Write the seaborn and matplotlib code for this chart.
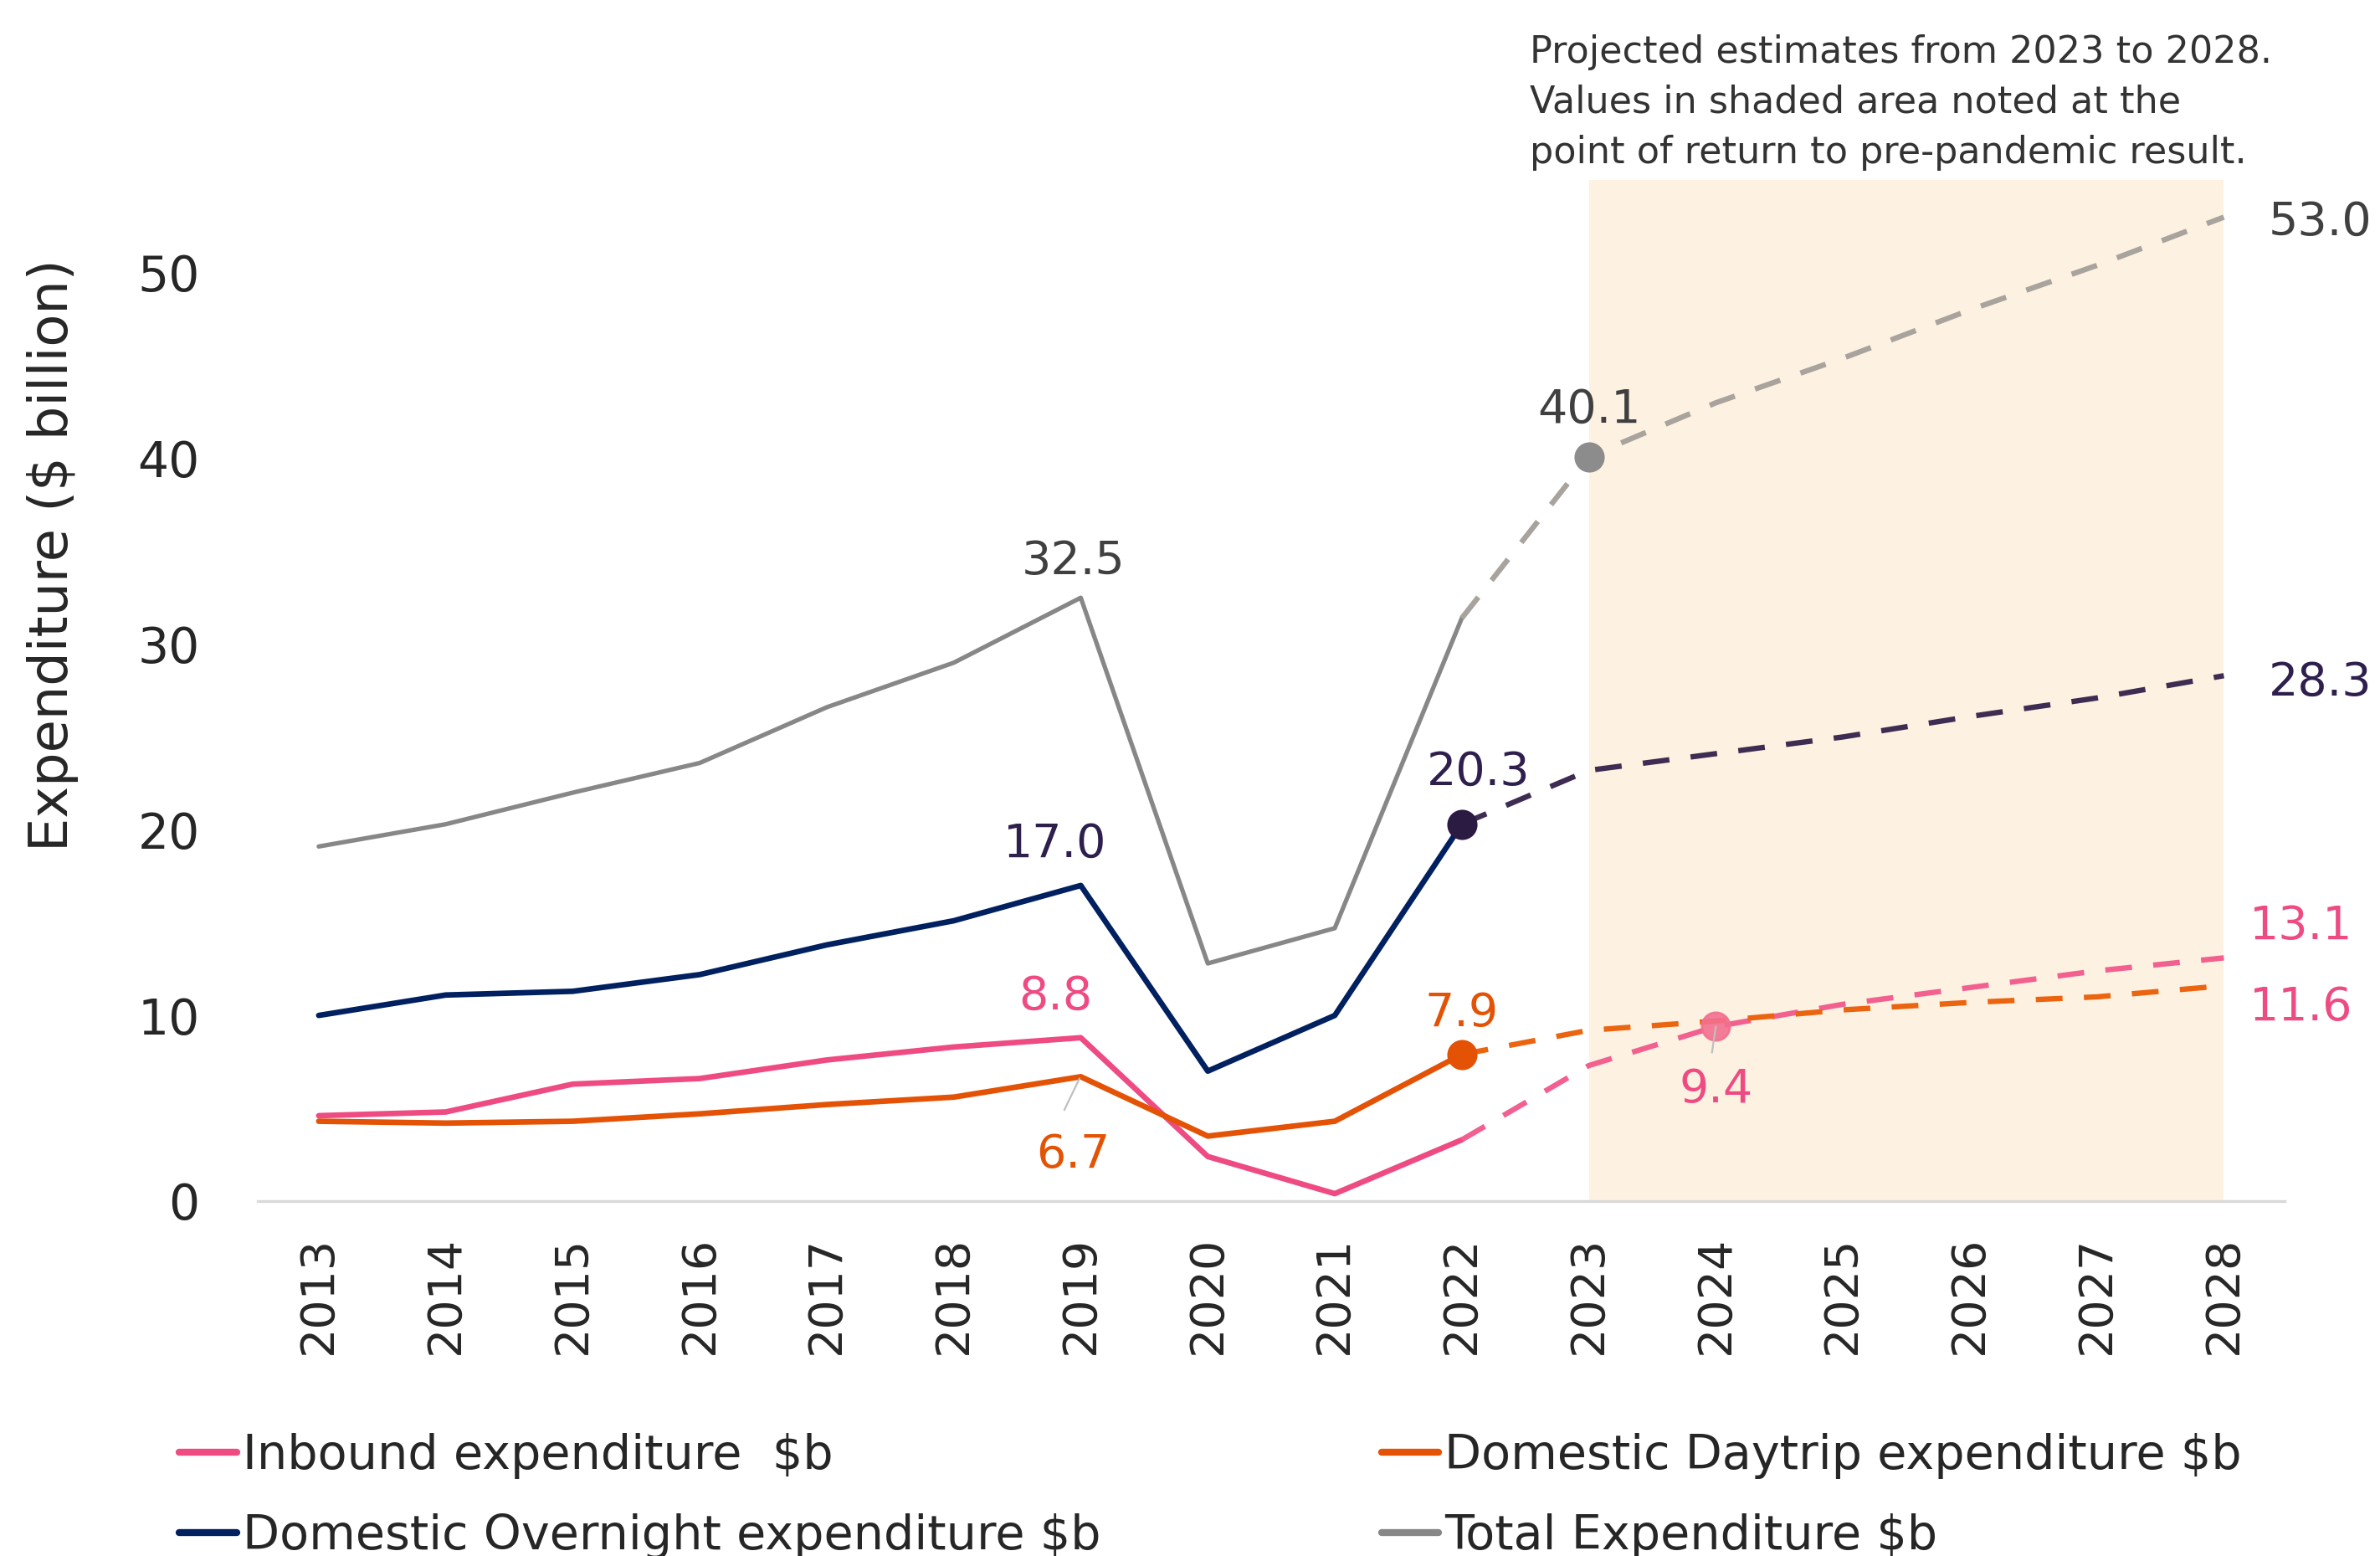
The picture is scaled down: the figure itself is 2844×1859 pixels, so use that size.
import numpy as np
import pandas as pd
import seaborn as sns
import matplotlib.pyplot as plt
from matplotlib.lines import Line2D

# values ($ billion); 2023-2028 are projections
years = list(range(2013, 2029))
inbound = [4.6, 4.8, 6.3, 6.6, 7.6, 8.3, 8.8, 2.4, 0.4, 3.3, 7.3, 9.4, 10.6, 11.5, 12.4, 13.1]
daytrip = [4.3, 4.2, 4.3, 4.7, 5.2, 5.6, 6.7, 3.5, 4.3, 7.9, 9.2, 9.7, 10.3, 10.7, 11.0, 11.6]
overnight = [10.0, 11.1, 11.3, 12.2, 13.8, 15.1, 17.0, 7.0, 10.0, 20.3, 23.2, 24.1, 25.0, 26.1, 27.1, 28.3]
total = [19.1, 20.3, 22.0, 23.6, 26.6, 29.0, 32.5, 12.8, 14.7, 31.4, 40.1, 43.0, 45.4, 48.0, 50.4, 53.0]

series_names = ["Inbound expenditure  $b", "Domestic Daytrip expenditure $b",
                "Domestic Overnight expenditure $b", "Total Expenditure $b"]

df = pd.DataFrame({"year": years, series_names[0]: inbound, series_names[1]: daytrip,
                   series_names[2]: overnight, series_names[3]: total})
long = df.melt(id_vars="year", var_name="series", value_name="value")
actual = long[long["year"] <= 2022]
projected = long[long["year"] >= 2022]

solid_colors = {series_names[0]: "#EF4B83", series_names[1]: "#E35205",
                series_names[2]: "#002060", series_names[3]: "#878787"}
dash_colors = {series_names[0]: "#F2608F", series_names[1]: "#EB6410",
               series_names[2]: "#3E2C52", series_names[3]: "#A8A39C"}
solid_lw = {series_names[0]: 2.4, series_names[1]: 2.4, series_names[2]: 2.4, series_names[3]: 1.9}

sns.set_theme(style="white")
plt.rcParams["font.family"] = ["DejaVu Sans"]

fig = plt.figure(figsize=(14.22, 9.295), dpi=200)
ax = fig.add_axes([0.1083, 0.2281, 0.8517, 0.6562])

ax.axvspan(2023, 2028, color="#FDF1E1", zorder=0, lw=0)

for name in series_names:
    sub = actual[actual["series"] == name]
    sns.lineplot(data=sub, x="year", y="value", color=solid_colors[name],
                 lw=solid_lw[name], ax=ax, zorder=3)
    sub = projected[projected["series"] == name]
    sns.lineplot(data=sub, x="year", y="value", color=dash_colors[name],
                 lw=2.3, ax=ax, zorder=3)
    ax.lines[-1].set_dashes((5, 4))

# highlighted points
ax.plot(2023, total[10], "o", color="#8C8C8C", ms=12, zorder=5)
ax.plot(2022, overnight[9], "o", color="#2B1A42", ms=12, zorder=5)
ax.plot(2022, daytrip[9], "o", color="#E35205", ms=12, zorder=5)
ax.plot(2024, inbound[11], "o", color="#F27090", ms=12, zorder=5, alpha=0.9)

# leader lines
ax.plot([2018.99, 2018.87], [6.6, 4.9], color="#BFBFBF", lw=0.8, zorder=4)
ax.plot([2024.0, 2023.97], [9.4, 8.0], color="#BFBFBF", lw=0.8, zorder=6)

dark_grey = "#404040"
purple = "#2E1F4D"
pink = "#EF4B83"
orange = "#E35205"
lbl = dict(fontsize=20, ha="center", va="center", zorder=7)
ax.text(2018.94, 34.45, "32.5", color=dark_grey, **lbl)
ax.text(2018.8, 19.2, "17.0", color=purple, **lbl)
ax.text(2018.8, 11.0, "8.8", color=pink, **lbl)
ax.text(2018.94, 2.5, "6.7", color=orange, **lbl)
ax.text(2022.13, 23.1, "20.3", color=purple, **lbl)
ax.text(2023.0, 42.6, "40.1", color=dark_grey, **lbl)
ax.text(2022.0, 10.1, "7.9", color=orange, **lbl)
ax.text(2024.0, 6.0, "9.4", color=pink, **lbl)
lbl_r = dict(fontsize=20, ha="left", va="center", zorder=7)
ax.text(2028.35, 52.7, "53.0", color=dark_grey, **lbl_r)
ax.text(2028.35, 27.9, "28.3", color=purple, **lbl_r)
ax.text(2028.2, 14.8, "13.1", color=pink, **lbl_r)
ax.text(2028.2, 10.4, "11.6", color=pink, **lbl_r)

ax.set_xlim(2012.52, 2028.48)
ax.set_ylim(0, 55)
ax.set_xticks(years)
ax.set_xticklabels([str(y) for y in years], rotation=90)
ax.set_yticks([0, 10, 20, 30, 40, 50])
ax.tick_params(axis="y", length=0, pad=25, labelsize=21, colors="#262626")
ax.tick_params(axis="x", length=0, pad=15, labelsize=20, colors="#262626")
ax.set_xlabel("")
ax.set_ylabel("")
for s in ["left", "right", "top"]:
    ax.spines[s].set_visible(False)
ax.spines["bottom"].set_color("#D9D9D9")
ax.spines["bottom"].set_linewidth(1.2)
ax.spines["bottom"].set_zorder(1)

fig.text(0.0222, 0.643, "Expenditure ($ billion)", rotation=90, ha="center", va="center",
         fontsize=23, color="#262626")

fig.text(0.6428, 0.978, "Projected estimates from 2023 to 2028.\nValues in shaded area noted at the\n"
         "point of return to pre-pandemic result.", ha="left", va="top", fontsize=16,
         linespacing=1.5, color="#333333")

def handle(name):
    return Line2D([0], [0], color=solid_colors[name], lw=3)

leg_kw = dict(frameon=False, fontsize=20.6, handlelength=1.2, handletextpad=0.12,
              labelspacing=0.72, borderpad=0, borderaxespad=0, loc="upper left")
leg1 = fig.legend([handle(series_names[0]), handle(series_names[2])],
                  [series_names[0], series_names[2]], bbox_to_anchor=(0.0753, 0.079), **leg_kw)
leg2 = fig.legend([handle(series_names[1]), handle(series_names[3])],
                  [series_names[1], series_names[3]], bbox_to_anchor=(0.5804, 0.079), **leg_kw)

fig.savefig("out.png", dpi=200)
